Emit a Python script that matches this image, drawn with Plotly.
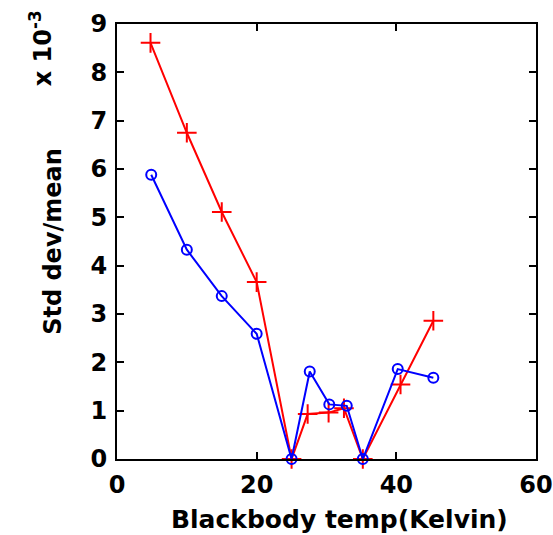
import plotly.graph_objects as go

# Data (values in units of 1e-3)
temp_red = [4.8, 10.0, 15.0, 20.0, 25.0, 27.3, 30.3, 32.5, 35.2, 40.6, 45.3]
std_red = [8.61, 6.75, 5.11, 3.66, 0.0, 0.93, 0.96, 1.05, 0.0, 1.54, 2.86]

temp_blue = [4.9, 10.0, 15.0, 20.0, 25.0, 27.6, 30.4, 32.9, 35.2, 40.2, 45.3]
std_blue = [5.88, 4.33, 3.37, 2.59, 0.0, 1.81, 1.13, 1.10, 0.0, 1.86, 1.68]

x_ticks = [0, 20, 40, 60]
y_ticks = list(range(0, 10))

FONT = "DejaVu Sans, Liberation Sans, Arial, sans-serif"

fig = go.Figure()
fig.add_trace(go.Scatter(
    x=temp_red, y=std_red, mode="lines+markers",
    line=dict(color="#ff0000", width=2),
    marker=dict(symbol="cross-thin", size=14, line=dict(color="#ff0000", width=2)),
    cliponaxis=False, showlegend=False))
fig.add_trace(go.Scatter(
    x=temp_blue, y=std_blue, mode="lines+markers",
    line=dict(color="#0000ff", width=2),
    marker=dict(symbol="circle-open", size=10, line=dict(color="#0000ff", width=2)),
    cliponaxis=False, showlegend=False))

axis_common = dict(
    showline=True, linecolor="black", linewidth=2, mirror="allticks",
    ticks="inside", ticklen=7, tickwidth=1.5, tickcolor="black",
    showgrid=False, zeroline=False, automargin=False,
    tickfont=dict(family=FONT, size=24, color="black", weight="bold"),
    ticklabelstandoff=3,
)

fig.update_xaxes(range=[0, 60], tickvals=x_ticks, ticktext=[str(v) for v in x_ticks],
                 **axis_common)
fig.update_yaxes(range=[0, 9], tickvals=y_ticks, ticktext=[str(v) for v in y_ticks],
                 title=dict(text="Std dev/mean",
                            font=dict(family=FONT, size=24, color="black", weight="bold"), standoff=22),
                 **axis_common)

# x-axis title (placed slightly right of center, as in the reference)
fig.add_annotation(
    xref="paper", yref="paper", x=0.531, y=-0.138, xanchor="center", yanchor="middle",
    text="Blackbody temp(Kelvin)", showarrow=False,
    font=dict(family=FONT, size=25, color="black", weight="bold"))

fig.add_annotation(
    xref="paper", yref="paper", x=-0.1825, y=1.035, xanchor="center", yanchor="top",
    text="x 10<sup>-3</sup>", textangle=-90, showarrow=False,
    font=dict(family=FONT, size=24, color="black", weight="bold"))

fig.update_layout(
    width=553, height=535,
    margin=dict(l=117, r=17, t=24, b=76, autoexpand=False),
    paper_bgcolor="white", plot_bgcolor="white",
)

fig.write_html("out.html")
